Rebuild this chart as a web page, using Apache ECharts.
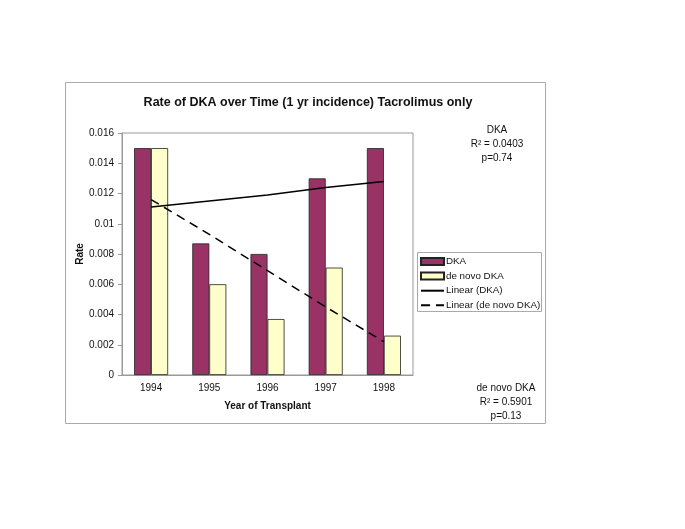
<!DOCTYPE html>
<html><head><meta charset="utf-8">
<script src="https://cdn.jsdelivr.net/npm/echarts@6/dist/echarts.min.js"></script>
<style>html,body{margin:0;padding:0;background:#fff}#c{width:685px;height:529px}</style>
</head><body><div id="c"></div>
<script>
var years = ['1994','1995','1996','1997','1998'];
var dka = [0.015, 0.0087, 0.008, 0.013, 0.015];
var deNovo = [0.015, 0.006, 0.0037, 0.0071, 0.0026];
var trendDka = [0.0111, 0.0115, 0.0119, 0.0124, 0.0128];
var trendDeNovo = [0.0116, 0.0093, 0.0069, 0.0045, 0.0022];
var yTicks = {min: 0, max: 0.016, interval: 0.002};
var titleText = 'Rate of DKA over Time (1 yr incidence) Tacrolimus only';
var noteDka = ['DKA', 'R\u00b2 = 0.0403', 'p=0.74'];
var noteDeNovo = ['de novo DKA', 'R\u00b2 = 0.5901', 'p=0.13'];

var FONT = '"Liberation Sans", Arial, sans-serif';
var chart = echarts.init(document.getElementById('c'), null, {renderer: 'canvas'});
function note(lines, cx, y0) {
  return lines.map(function (t, i) {
    return {type: 'text', x: cx, y: y0 + i * 14, z: 10,
      style: {text: t, fill: '#111', font: '10px ' + FONT, textAlign: 'center', textVerticalAlign: 'middle'}};
  });
}
var hideSym = {opacity: 0};
chart.setOption({
  backgroundColor: '#fff',
  animation: false,
  textStyle: {fontFamily: FONT},
  title: {text: titleText, left: 303, top: 91, textAlign: 'center',
    textStyle: {fontSize: 12.5, fontWeight: 'bold', color: '#111', fontFamily: FONT}},
  grid: {left: 122, right: 272, top: 133, bottom: 154, show: true, backgroundColor: '#fff', borderColor: '#999', borderWidth: 1},
  legend: {orient: 'vertical', left: 420, top: 256, padding: 0, itemWidth: 23, itemHeight: 7, itemGap: 3.6,
    textStyle: {fontSize: 9.8, color: '#111', fontFamily: FONT, lineHeight: 11, padding: [0, 0, 0, -3]},
    data: [
      {name: 'DKA', icon: 'rect'},
      {name: 'de novo DKA', icon: 'rect'},
      {name: 'Linear (DKA)', itemStyle: hideSym},
      {name: 'Linear (de novo DKA)', itemStyle: hideSym}
    ]},
  xAxis: {type: 'category', data: years, boundaryGap: true,
    name: 'Year of Transplant', nameLocation: 'middle', nameGap: 26,
    nameTextStyle: {fontSize: 10, fontWeight: 'bold', color: '#111', fontFamily: FONT},
    axisLine: {lineStyle: {color: '#999'}}, axisTick: {length: 4, lineStyle: {color: '#999'}},
    axisLabel: {fontSize: 10, color: '#111', margin: 8, fontFamily: FONT}},
  yAxis: {type: 'value', min: yTicks.min, max: yTicks.max, interval: yTicks.interval,
    name: 'Rate', nameLocation: 'middle', nameGap: 37, nameRotate: 90,
    nameTextStyle: {fontSize: 10, fontWeight: 'bold', color: '#111', fontFamily: FONT},
    axisLine: {show: true, lineStyle: {color: '#999'}}, axisTick: {show: true, length: 4, lineStyle: {color: '#999'}},
    splitLine: {show: false},
    axisLabel: {fontSize: 10, color: '#111', margin: 8, fontFamily: FONT}},
  series: [
    {name: 'DKA', type: 'bar', data: dka, barWidth: 17, barGap: '0%',
      itemStyle: {color: '#993366', borderColor: '#222', borderWidth: 0.8}},
    {name: 'de novo DKA', type: 'bar', data: deNovo, barWidth: 17,
      itemStyle: {color: '#ffffcc', borderColor: '#222', borderWidth: 0.8}},
    {name: 'Linear (DKA)', type: 'line', data: trendDka, symbol: 'none', z: 5,
      itemStyle: {color: '#000'}, lineStyle: {color: '#000', width: 1.5}},
    {name: 'Linear (de novo DKA)', type: 'line', data: trendDeNovo, symbol: 'none', z: 5,
      itemStyle: {color: '#000'}, lineStyle: {color: '#000', width: 1.5, type: [9, 6]}}
  ],
  graphic: [
    {type: 'rect', shape: {x: 65.5, y: 82.5, width: 480, height: 341}, z: -10, silent: true,
      style: {fill: '#fff', stroke: '#aaa', lineWidth: 1}},
    {type: 'rect', shape: {x: 417.5, y: 252.5, width: 124, height: 59}, z: 0, silent: true,
      style: {fill: '#fff', stroke: '#aaa', lineWidth: 1}}
  ].concat(note(noteDka, 497, 130)).concat(note(noteDeNovo, 506, 388))
});
</script></body></html>
